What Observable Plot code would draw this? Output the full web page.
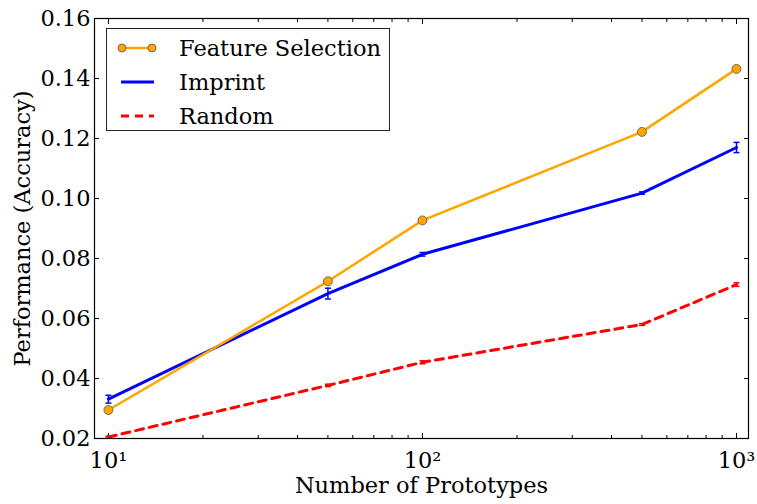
<!DOCTYPE html>
<html>
<head>
<meta charset="utf-8">
<script src="https://cdn.jsdelivr.net/npm/d3@7"></script>
<script src="https://cdn.jsdelivr.net/npm/@observablehq/plot@0.6"></script>
<style>
  html, body { margin: 0; padding: 0; background: #fff; }
  #fig { position: relative; width: 757px; height: 504px; font-family: "DejaVu Serif", serif; }
  #legend { position: absolute; left: 106px; top: 28px; width: 284px; height: 103px;
    border: 1px solid #222; background: #fff; box-sizing: border-box; }
  .entry { position: absolute; left: 0; height: 34px; display: flex; align-items: center; }
  .entry svg { margin-left: 13px; overflow: visible; }
  .entry span { margin-left: 25px; font-size: 22.5px; color: #000; white-space: nowrap; }
</style>
</head>
<body>
<div id="fig"></div>
<script>
const prototypes = [10, 50, 100, 500, 1000];
const featureSelection = [0.0295, 0.0724, 0.0927, 0.1222, 0.1432];
const imprint = [0.0331, 0.0683, 0.0814, 0.1018, 0.1170];
const imprintErr = [0.0013, 0.0018, 0.0006, 0.0004, 0.0017];
const random = [0.0205, 0.0377, 0.0454, 0.0580, 0.0713];
const randomErr = [0.0003, 0.0004, 0.0005, 0.0003, 0.0006];
const seriesNames = ["Feature Selection", "Imprint", "Random"];
const seriesColors = ["#FFA500", "#0000FF", "#FF0000"];
const yTicks = [0.02, 0.04, 0.06, 0.08, 0.10, 0.12, 0.14, 0.16];
const xMajor = [10, 100, 1000];
const xMajorLabels = ["10\u00B9", "10\u00B2", "10\u00B3"];
const xMinor = [20, 30, 40, 50, 60, 70, 80, 90, 200, 300, 400, 500, 600, 700, 800, 900];

const fs = prototypes.map((x, i) => ({x, y: featureSelection[i]}));
const im = prototypes.map((x, i) => ({x, y: imprint[i], e: imprintErr[i]}));
const rd = prototypes.map((x, i) => ({x, y: random[i], e: randomErr[i]}));

const cap = {draw(ctx, size) { const r = Math.sqrt(size / Math.PI); ctx.moveTo(-r, 0); ctx.lineTo(r, 0); }};

const chart = Plot.plot({
  width: 757,
  height: 504,
  marginLeft: 94,
  marginRight: 9,
  marginTop: 18,
  marginBottom: 66,
  style: {fontFamily: "DejaVu Serif, serif", fontSize: "22.5px", color: "#000", background: "#fff"},
  x: {type: "log", domain: [9.03, 1092]},
  y: {domain: [0.02, 0.16]},
  marks: [
    Plot.axisX(xMajor, {anchor: "bottom", tickSize: -5, tickPadding: 19, tickFormat: (d) => xMajorLabels[xMajor.indexOf(d)], fontSize: 22.5, label: null}),
    Plot.axisX(xMinor, {anchor: "bottom", tickSize: -3, text: null, label: null}),
    Plot.axisX(xMajor, {anchor: "top", tickSize: -5, text: null, label: null}),
    Plot.axisX(xMinor, {anchor: "top", tickSize: -3, text: null, label: null}),
    Plot.axisY(yTicks, {anchor: "left", tickSize: -5, tickPadding: 9, tickFormat: (d) => d.toFixed(2), fontSize: 22.5, label: null}),
    Plot.axisY(yTicks, {anchor: "right", tickSize: -5, text: null, label: null}),
    Plot.text(["Number of Prototypes"], {frameAnchor: "bottom", dy: 54, fontSize: 22.5, fill: "#000", textAnchor: "middle"}),
    Plot.text(["Performance (Accuracy)"], {frameAnchor: "left", dx: -72, rotate: -90, fontSize: 22.5, fill: "#000", textAnchor: "middle"}),
    // Random
    Plot.ruleX(rd, {x: "x", y1: (d) => d.y - d.e, y2: (d) => d.y + d.e, stroke: seriesColors[2], strokeWidth: 1.5}),
    Plot.dot(rd, {x: "x", y: (d) => d.y - d.e, symbol: cap, r: 3, stroke: seriesColors[2], strokeWidth: 1.5}),
    Plot.dot(rd, {x: "x", y: (d) => d.y + d.e, symbol: cap, r: 3, stroke: seriesColors[2], strokeWidth: 1.5}),
    Plot.line(rd, {x: "x", y: "y", stroke: seriesColors[2], strokeWidth: 3, strokeDasharray: "8,6"}),
    // Imprint
    Plot.ruleX(im, {x: "x", y1: (d) => d.y - d.e, y2: (d) => d.y + d.e, stroke: seriesColors[1], strokeWidth: 1.5}),
    Plot.dot(im, {x: "x", y: (d) => d.y - d.e, symbol: cap, r: 3, stroke: seriesColors[1], strokeWidth: 1.5}),
    Plot.dot(im, {x: "x", y: (d) => d.y + d.e, symbol: cap, r: 3, stroke: seriesColors[1], strokeWidth: 1.5}),
    Plot.line(im, {x: "x", y: "y", stroke: seriesColors[1], strokeWidth: 3}),
    // Feature Selection
    Plot.line(fs, {x: "x", y: "y", stroke: seriesColors[0], strokeWidth: 2.5}),
    Plot.dot(fs, {x: "x", y: "y", r: 4.5, fill: seriesColors[0], stroke: "#555", strokeWidth: 0.8}),
    Plot.frame({stroke: "#000", strokeWidth: 1.2})
  ]
});

const fig = document.getElementById("fig");
fig.appendChild(chart);

const legend = document.createElement("div");
legend.id = "legend";
const swatches = [
  `<svg width="34" height="14"><line x1="2" y1="7" x2="32" y2="7" stroke="${seriesColors[0]}" stroke-width="2.5"/><circle cx="2" cy="7" r="4" fill="${seriesColors[0]}" stroke="#555" stroke-width="0.8"/><circle cx="32" cy="7" r="4" fill="${seriesColors[0]}" stroke="#555" stroke-width="0.8"/></svg>`,
  `<svg width="34" height="14"><line x1="1" y1="7" x2="34" y2="7" stroke="${seriesColors[1]}" stroke-width="3"/></svg>`,
  `<svg width="34" height="14"><line x1="1" y1="7" x2="34" y2="7" stroke="${seriesColors[2]}" stroke-width="3" stroke-dasharray="8,6"/></svg>`
];
seriesNames.forEach((name, i) => {
  const e = document.createElement("div");
  e.className = "entry";
  e.style.top = (2 + i * 34) + "px";
  e.innerHTML = swatches[i] + `<span>${name}</span>`;
  legend.appendChild(e);
});
fig.appendChild(legend);
</script>
</body>
</html>
